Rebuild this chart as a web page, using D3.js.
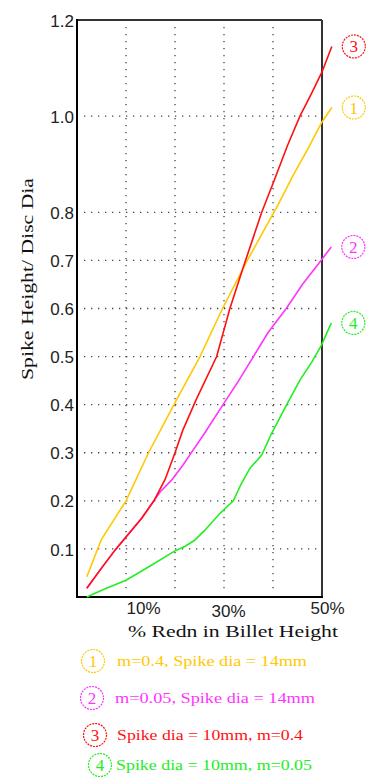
<!DOCTYPE html>
<html>
<meta charset="utf-8">
<head>
<title>Spike Height vs Redn</title>
<style>
body { margin: 0; background: #fff; }
.tick text { font-family: "Liberation Sans", Arial, sans-serif; font-size: 17px; fill: #222; }
.title { font-family: "Liberation Serif", "Times New Roman", serif; font-size: 17px; fill: #111; }
.grid { stroke: #444; stroke-width: 1.3; stroke-dasharray: 1.3 5.7; }
.curve { fill: none; stroke-width: 1.6; }
.legend { font-family: "Liberation Serif", "Times New Roman", serif; font-size: 15px; }
.num { font-family: "Liberation Serif", "Times New Roman", serif; font-size: 17px; text-anchor: middle; }
</style>
</head>
<body>
<script src="https://cdnjs.cloudflare.com/ajax/libs/d3/7.8.5/d3.min.js"></script>
<script>

// data (x = % reduction, y = spike height / disc dia)
var x1 = [2, 5, 10, 14.6, 20.3, 25.1, 29.7, 34.6, 38, 41, 44, 47, 50, 52];
var y1 = [0.042, 0.12, 0.2, 0.3, 0.41, 0.5, 0.6, 0.697, 0.76, 0.815, 0.875, 0.93, 0.988, 1.018];

var x2 = [2, 5, 7.8, 10, 13.2, 15.7, 17, 19.3, 21.6, 23, 26, 29.8, 33, 36, 39, 42.7, 46, 49.8, 51.9];
var y2 = [0.018, 0.06, 0.098, 0.125, 0.164, 0.2, 0.219, 0.243, 0.274, 0.295, 0.34, 0.4, 0.45, 0.5, 0.55, 0.6, 0.65, 0.7, 0.728];

var x3 = [2, 5, 7.8, 10, 13.2, 15.7, 18, 20, 21.6, 24.3, 28.5, 31.2, 34.3, 37.7, 40, 43, 45.5, 48, 50, 52];
var y3 = [0.018, 0.06, 0.098, 0.125, 0.164, 0.2, 0.245, 0.3, 0.347, 0.41, 0.5, 0.6, 0.697, 0.8, 0.86, 0.94, 1.0, 1.05, 1.092, 1.145];

var x4 = [2, 6, 10, 15, 20, 22, 24, 26.1, 29.2, 31.9, 33.5, 35.3, 37.7, 39.7, 42.8, 45.5, 48, 49.9, 51.9];
var y4 = [0.0, 0.018, 0.035, 0.065, 0.096, 0.105, 0.118, 0.139, 0.174, 0.2, 0.235, 0.268, 0.295, 0.34, 0.4, 0.451, 0.49, 0.524, 0.57];

var seriesNames = ["m=0.4, Spike dia = 14mm", "m=0.05, Spike dia = 14mm",
                   "Spike dia = 10mm, m=0.4", "Spike dia = 10mm, m=0.05"];
var seriesLabels = ["1", "2", "3", "4"];
var colors = ["#FFC800", "#FF33FF", "#FF1010", "#22EE22"];

var yTicks = [0.1, 0.2, 0.3, 0.4, 0.5, 0.6, 0.7, 0.8, 1.0, 1.2];
var yGrid = [0.1, 0.2, 0.3, 0.4, 0.5, 0.6, 0.7, 0.8, 1.0];
var xTicks = [10, 30, 50];
var xGrid = [10, 20, 30, 40];

var W = 366, H = 779;
var svg = d3.select("body").append("svg")
    .attr("width", W)
    .attr("height", H);

var x = d3.scaleLinear().domain([0, 50]).range([77, 322]);
var y = d3.scaleLinear().domain([0, 1.2]).range([597, 20]);

// dotted grid
svg.append("g").selectAll("line.v")
  .data(xGrid).enter().append("line")
    .attr("class", "grid")
    .attr("x1", d => x(d)).attr("x2", d => x(d))
    .attr("y1", y(1.2) + 7).attr("y2", y(0) - 3);

svg.append("g").selectAll("line.h")
  .data(yGrid).enter().append("line")
    .attr("class", "grid")
    .attr("x1", x(0) + 7).attr("x2", x(50) - 4)
    .attr("y1", d => y(d)).attr("y2", d => y(d));

// frame
svg.append("line").attr("x1", x(0)).attr("x2", x(50)).attr("y1", y(1.2)).attr("y2", y(1.2))
   .style("stroke", "#333").style("stroke-width", 2);
svg.append("line").attr("x1", x(50)).attr("x2", x(50)).attr("y1", y(1.2)).attr("y2", y(0))
   .style("stroke", "#333").style("stroke-width", 2);
svg.append("line").attr("x1", x(0)).attr("x2", x(0)).attr("y1", y(1.2) - 1).attr("y2", y(0) + 1)
   .style("stroke", "#000").style("stroke-width", 2);
svg.append("line").attr("x1", x(0) - 1).attr("x2", x(50) + 1).attr("y1", y(0)).attr("y2", y(0))
   .style("stroke", "#000").style("stroke-width", 2);

// axes
var yAxis = svg.append("g")
    .attr("transform", "translate(" + x(0) + ",0)")
    .call(d3.axisLeft(y).tickValues(yTicks).tickSize(0).tickPadding(3).tickFormat(d3.format(".1f")));
yAxis.select(".domain").remove();
yAxis.selectAll(".tick text").attr("dy", "0.36em");

var xShift = {10: 17, 30: 4, 50: 5};
var xAxis = svg.append("g")
    .attr("transform", "translate(0," + y(0) + ")")
    .call(d3.axisBottom(x).tickValues(xTicks).tickSize(0).tickPadding(3).tickFormat(d => d + "%"));
xAxis.select(".domain").remove();
xAxis.selectAll(".tick text")
    .attr("dx", d => xShift[d])
    .attr("dy", d => d === 30 ? "1.0em" : "0.85em");

svg.append("text").attr("class", "title")
    .attr("x", 233).attr("y", 637)
    .attr("text-anchor", "middle")
    .attr("textLength", 210).attr("lengthAdjust", "spacingAndGlyphs")
    .text("% Redn in Billet Height");

svg.append("text").attr("class", "title")
    .attr("transform", "translate(33,279) rotate(-90)")
    .attr("text-anchor", "middle")
    .attr("textLength", 202).attr("lengthAdjust", "spacingAndGlyphs")
    .text("Spike Height/ Disc Dia");

// curves
var line = d3.line().x(d => x(d[0])).y(d => y(d[1]));
var series = [[x1, y1], [x2, y2], [x3, y3], [x4, y4]].map(function(s) {
  return s[0].map((v, i) => [v, s[1][i]]);
});

svg.append("g").selectAll("path")
  .data(series).enter().append("path")
    .attr("class", "curve")
    .attr("d", line)
    .style("stroke", (d, i) => colors[i]);

// circled numbers at the line ends
function badge(g, cx, cy, i) {
  g.append("circle").attr("cx", cx).attr("cy", cy).attr("r", 11.5)
    .style("fill", "none").style("stroke", colors[i]).style("stroke-width", 1.2)
    .style("stroke-dasharray", "2 1");
  g.append("text").attr("class", "num").attr("x", cx).attr("y", cy + 6)
    .style("fill", colors[i]).text(seriesLabels[i]);
}

var ends = svg.append("g");
series.forEach(function(s, i) {
  var last = s[s.length - 1];
  badge(ends, x(last[0]) + 22, y(last[1]), i);
});

// legend
var legY = [661, 698, 735, 765];
var legCx = [93, 92, 95, 100];
var legTx = [117, 115, 117, 116];
var legW = [190, 200, 186, 196];
var leg = svg.append("g");
seriesNames.forEach(function(name, i) {
  badge(leg, legCx[i], legY[i], i);
  leg.append("text").attr("class", "legend")
    .attr("x", legTx[i]).attr("y", legY[i] + 5)
    .attr("textLength", legW[i]).attr("lengthAdjust", "spacingAndGlyphs")
    .style("fill", colors[i])
    .text(name);
});

</script>
</body>
</html>
